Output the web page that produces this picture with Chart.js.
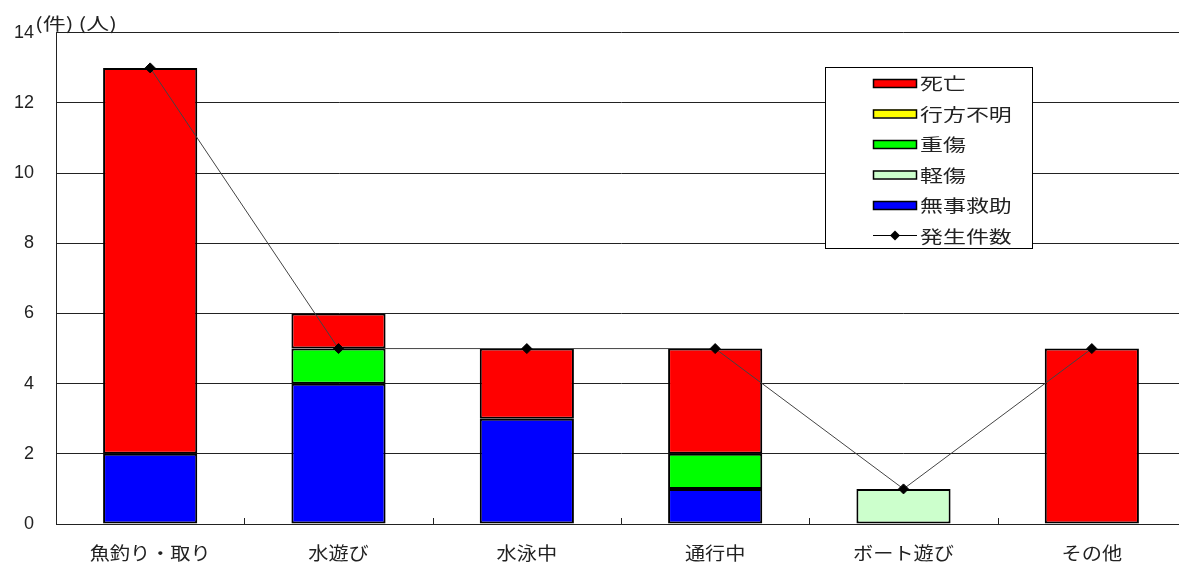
<!DOCTYPE html>
<html><head><meta charset="utf-8">
<script src="https://cdn.jsdelivr.net/npm/chart.js@4"></script>
<style>html,body{margin:0;padding:0;background:#fff;overflow:hidden;width:1179px;height:571px}#wrap{width:1192px;height:571px}</style>
</head><body><div id="wrap"><canvas id="c"></canvas></div>
<script>
const categories = ['魚釣り・取り','水遊び','水泳中','通行中','ボート遊び','その他'];
const rescued = [2,4,3,1,0,0];      // 無事救助
const minorInjury = [0,0,0,0,1,0];  // 軽傷
const seriousInjury = [0,1,0,1,0,0];// 重傷
const missing = [0,0,0,0,0,0];      // 行方不明
const deaths = [11,1,2,3,0,5];      // 死亡
const incidents = [13,5,5,5,1,5];   // 発生件数
const yTicks = [0,2,4,6,8,10,12,14];
const yTitle = '(件) (人)';

const FONT = '"Noto Sans CJK JP","Noto Sans",sans-serif';

const bar = (label, data, color) => ({type:'bar', label, data:data.map(v => v === 0 ? null : v), backgroundColor:color, borderColor:'#000', borderWidth:2, borderSkipped:false, stack:'s', order:1, barPercentage:0.5, categoryPercentage:1});

const legendItems = [
  {label:'死亡', color:'#ff0000'},
  {label:'行方不明', color:'#ffff00'},
  {label:'重傷', color:'#00ff00'},
  {label:'軽傷', color:'#ccffcc'},
  {label:'無事救助', color:'#0000ff'},
  {label:'発生件数', line:true}
];

function stretched(ctx, text, x, y, sx, align) {
  const w = ctx.measureText(text).width * sx;
  const left = align === 'center' ? x - w/2 : x;
  ctx.save(); ctx.translate(left, y); ctx.scale(sx, 1);
  ctx.textAlign = 'left'; ctx.fillText(text, 0, 0); ctx.restore();
}

const deco = {
  id:'deco',
  afterDraw(chart){
    const ctx = chart.ctx, x = chart.scales.x, a = chart.chartArea;
    ctx.save();
    ctx.strokeStyle = '#222'; ctx.lineWidth = 1;
    for (let i = 1; i < categories.length; i++) {
      const px = Math.round((x.getPixelForValue(i-1) + x.getPixelForValue(i))/2) + 0.5;
      ctx.beginPath(); ctx.moveTo(px, a.bottom); ctx.lineTo(px, a.bottom - 6); ctx.stroke();
    }
    ctx.fillStyle = '#222'; ctx.font = '18px ' + FONT; ctx.textBaseline = 'middle';
    categories.forEach((c, i) => stretched(ctx, c, x.getPixelForValue(i), 553, 1.12, 'center'));
    ctx.font = '17px ' + FONT;
    const tw = ctx.measureText(yTitle).width;
    stretched(ctx, yTitle, 35, 24, 82 / tw, 'left');
    const lx = 825, ly = 67, lw = 207, lh = 181;
    ctx.fillStyle = '#fff'; ctx.fillRect(lx, ly, lw, lh);
    ctx.strokeStyle = '#000'; ctx.lineWidth = 1; ctx.strokeRect(lx+0.5, ly+0.5, lw, lh);
    ctx.font = '17px ' + FONT;
    legendItems.forEach((it, i) => {
      const cy = 83 + i * 30.5;
      if (it.line) {
        ctx.strokeStyle = '#000'; ctx.lineWidth = 1;
        ctx.beginPath(); ctx.moveTo(873, cy); ctx.lineTo(917, cy); ctx.stroke();
        ctx.fillStyle = '#000'; ctx.beginPath();
        ctx.moveTo(895, cy-5); ctx.lineTo(900, cy); ctx.lineTo(895, cy+5); ctx.lineTo(890, cy); ctx.closePath(); ctx.fill();
      } else {
        ctx.fillStyle = it.color; ctx.fillRect(873, cy-4, 44, 8);
        ctx.strokeStyle = '#000'; ctx.lineWidth = 1.5; ctx.strokeRect(873.5, cy-3.5, 43, 8);
      }
      ctx.fillStyle = '#222'; stretched(ctx, it.label, 920, cy + 1, 1.35, 'left');
    });
    ctx.restore();
  }
};

new Chart(document.getElementById('c'), {
  data: {
    labels: categories,
    datasets: [
      {type:'line', label:'発生件数', data:incidents, borderColor:'#444', borderWidth:1, pointStyle:'rectRot', pointRadius:5, pointBackgroundColor:'#000', pointBorderColor:'#000', stack:'line', order:0, tension:0},
      bar('無事救助', rescued, '#0000ff'),
      bar('軽傷', minorInjury, '#ccffcc'),
      bar('重傷', seriousInjury, '#00ff00'),
      bar('行方不明', missing, '#ffff00'),
      bar('死亡', deaths, '#ff0000')
    ]
  },
  options: {
    responsive:true, maintainAspectRatio:false, animation:false,
    layout:{padding:{top:32, right:0, left:0, bottom:0}},
    plugins:{legend:{display:false}, tooltip:{enabled:false}},
    scales:{
      x:{stacked:true, offset:true,
        grid:{display:false, drawTicks:false},
        border:{display:true, color:'#222', width:1},
        ticks:{display:false},
        afterFit(s){ s.height = 47; }
      },
      y:{stacked:true, min:0, max:14,
        afterBuildTicks(s){ s.ticks = yTicks.map(v => ({value:v})); },
        grid:{color:'#222', lineWidth:1, drawTicks:false},
        border:{display:true, color:'#222', width:1},
        ticks:{color:'#222', font:{family:'"Liberation Sans",Arial,sans-serif', size:18}, padding:22},
        afterFit(s){ s.width = 56; }
      }
    }
  },
  plugins:[deco]
});
</script></body></html>
